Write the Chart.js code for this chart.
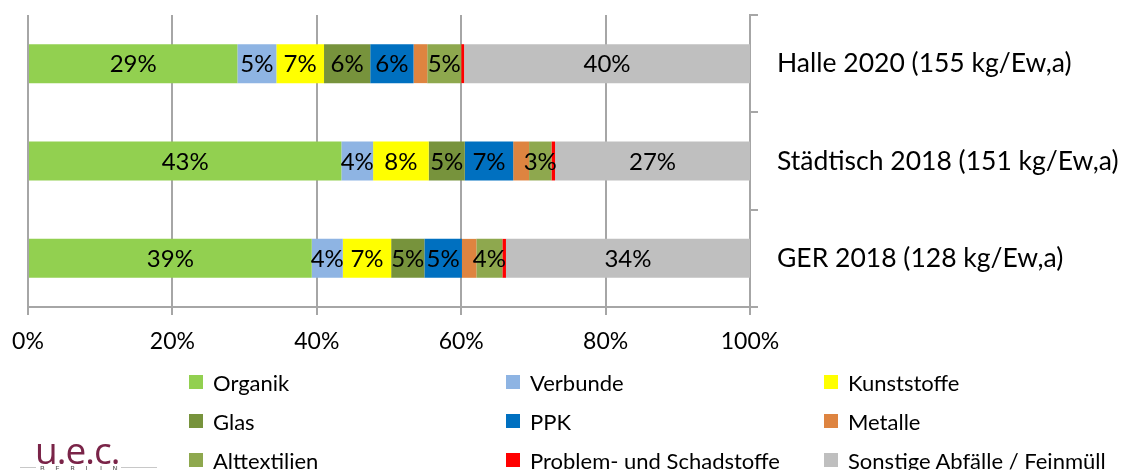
<!DOCTYPE html>
<html>
<head>
<meta charset="utf-8">
<script src="https://cdn.jsdelivr.net/npm/chart.js@4/dist/chart.umd.min.js"></script>
<style>
  html, body { margin: 0; padding: 0; background: #ffffff; }
  #wrap { position: relative; width: 1130px; height: 470px; overflow: hidden; background: #fff; }
  #chartBox { position: absolute; left: 0; top: 0; width: 1130px; height: 365px; }
  #legend { position: absolute; left: 0; top: 0; width: 1130px; height: 470px; pointer-events: none; }
  .lg-item { position: absolute; height: 30px; display: flex; align-items: center; white-space: nowrap;
             font-family: Lato, "Noto Sans", sans-serif; font-size: 22px; color: #000; }
  .lg-sw { width: 14px; height: 14px; margin-right: 10px; flex: none; }
  #logo { position: absolute; left: 35px; top: 430px; font-family: "Open Sans", sans-serif; font-size: 37px;
          color: #7a2448; letter-spacing: -1px; line-height: 40px; }
  #logoLine1 { position: absolute; left: 20px; top: 467px; width: 16px; height: 1px; background: #c8c8c8; }
  #logoLine2 { position: absolute; left: 121px; top: 467px; width: 36px; height: 1px; background: #c8c8c8; }
  #logoSub { position: absolute; left: 40px; top: 465px; font-family: "DejaVu Sans", sans-serif; font-size: 7px;
             letter-spacing: 10.5px; color: #555; }
</style>
</head>
<body>
<div id="wrap">
  <div id="chartBox"><canvas id="c" width="1130" height="365"></canvas></div>
  <div id="legend"></div>
  <div id="logo">u.e.c.</div>
  <div id="logoLine1"></div>
  <div id="logoLine2"></div>
  <div id="logoSub">BERLIN</div>
</div>
<script>
// ---- data ----
const categories = ["Halle 2020 (155 kg/Ew,a)", "Städtisch 2018 (151 kg/Ew,a)", "GER 2018 (128 kg/Ew,a)"];
const seriesNames = ["Organik", "Verbunde", "Kunststoffe", "Glas", "PPK", "Metalle",
                     "Alttextilien", "Problem- und Schadstoffe", "Sonstige Abfälle / Feinmüll"];
const organik      = [29.0, 43.4, 39.3];
const verbunde     = [5.4, 4.4, 4.3];
const kunststoffe  = [6.6, 7.7, 6.7];
const glas         = [6.4, 5.0, 4.6];
const ppk          = [6.0, 6.7, 5.2];
const metalle      = [1.9, 2.2, 2.0];
const alttextilien = [4.7, 3.1, 3.6];
const problem      = [0.4, 0.5, 0.5];
const sonstige     = [39.6, 27.0, 33.8];
const xTicks = [0, 20, 40, 60, 80, 100];

const seriesValues = [organik, verbunde, kunststoffe, glas, ppk, metalle, alttextilien, problem, sonstige];
const seriesColors = ["#92D050", "#8EB4E3", "#FFFF00", "#77933C", "#0070C0", "#DE8440",
                      "#8EA84E", "#FF0000", "#BFBFBF"];
const unlabeled = ["Metalle", "Problem- und Schadstoffe"];

const gridColor = "#a6a6a6";
const FONT = "Lato";

const datasets = seriesNames.map((name, i) => ({
  label: name,
  data: seriesValues[i],
  backgroundColor: seriesColors[i],
  borderWidth: 0,
  barPercentage: 0.4,
  categoryPercentage: 1.0
}));

const dataLabels = {
  id: "dataLabels",
  afterDatasetsDraw(chart) {
    const ctx = chart.ctx;
    ctx.save();
    ctx.font = "24px " + FONT;
    ctx.fillStyle = "#000";
    ctx.textAlign = "center";
    ctx.textBaseline = "middle";
    chart.data.datasets.forEach((ds, di) => {
      if (unlabeled.includes(ds.label)) return;
      const meta = chart.getDatasetMeta(di);
      meta.data.forEach((el, j) => {
        const v = ds.data[j];
        const cx = (el.x + el.base) / 2;
        ctx.fillText(Math.round(v) + "%", cx, el.y + 1);
      });
    });
    ctx.restore();
  }
};

new Chart(document.getElementById("c"), {
  type: "bar",
  data: { labels: categories, datasets },
  options: {
    indexAxis: "y",
    responsive: false,
    animation: false,
    events: [],
    layout: { padding: { left: 28, top: 15, right: 0, bottom: 0 } },
    plugins: { legend: { display: false }, tooltip: { enabled: false } },
    scales: {
      x: {
        stacked: true,
        min: 0, max: 100,
        afterBuildTicks(scale) { scale.ticks = xTicks.map(v => ({ value: v })); },
        afterFit(scale) { scale.height = 58; scale.paddingLeft = 0; scale.paddingRight = 0; },
        ticks: {
          callback: v => v + "%",
          color: "#000",
          font: { family: FONT, size: 23 },
          padding: 13,
          maxRotation: 0
        },
        grid: { color: gridColor, lineWidth: 2, tickLength: 8, drawOnChartArea: true },
        border: { display: true, color: gridColor, width: 2 }
      },
      y: {
        stacked: true,
        position: "right",
        afterFit(scale) { scale.width = 380; scale.paddingTop = 0; scale.paddingBottom = 0; },
        ticks: {
          color: "#000",
          font: { family: FONT, size: 26.5 },
          padding: 19,
          crossAlign: "near"
        },
        grid: { color: gridColor, lineWidth: 2, tickLength: 8, drawOnChartArea: false, offset: true },
        border: { display: true, color: gridColor, width: 2 }
      }
    }
  },
  plugins: [dataLabels]
});

// ---- HTML legend (3 columns, row-major) ----
const legend = document.getElementById("legend");
const colX = [189, 506, 824];
const rowY = [382, 421, 460];
seriesNames.forEach((name, i) => {
  const item = document.createElement("div");
  item.className = "lg-item";
  item.style.left = colX[i % 3] + "px";
  item.style.top = (rowY[Math.floor(i / 3)] - 15) + "px";
  const sw = document.createElement("span");
  sw.className = "lg-sw";
  sw.style.background = seriesColors[i];
  const tx = document.createElement("span");
  tx.textContent = name;
  item.appendChild(sw);
  item.appendChild(tx);
  legend.appendChild(item);
});
</script>
</body>
</html>
